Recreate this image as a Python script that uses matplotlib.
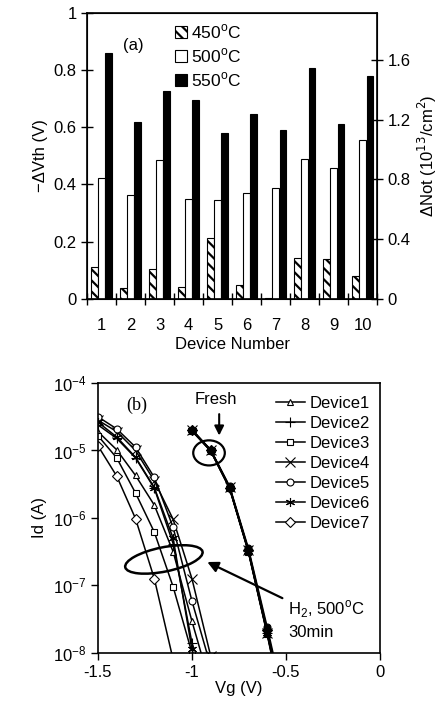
import matplotlib
matplotlib.use("Agg")
import matplotlib.pyplot as plt
import numpy as np
from matplotlib.patches import Ellipse

plt.rcParams['font.family'] = ['Liberation Sans', 'DejaVu Sans']
plt.rcParams['font.size'] = 12
plt.rcParams['hatch.linewidth'] = 1.6

# ---- panel (a) data ----
devices = [1, 2, 3, 4, 5, 6, 7, 8, 9, 10]
dvth_450 = [0.112, 0.038, 0.105, 0.042, 0.212, 0.048, 0.002, 0.143, 0.138, 0.078]
dvth_500 = [0.421, 0.364, 0.486, 0.350, 0.344, 0.369, 0.388, 0.488, 0.458, 0.556]
dvth_550 = [0.858, 0.617, 0.728, 0.696, 0.579, 0.645, 0.589, 0.807, 0.612, 0.780]

# ---- panel (b) data: log10(Id) ----
vg_h2 = [-1.5, -1.4, -1.3, -1.2, -1.1, -1.0, -0.9]
h2_logid = {
    'Device1': [-4.72, -4.99, -5.37, -5.81, -6.50, -7.53, -8.50],
    'Device2': [-4.62, -4.82, -5.11, -5.56, -6.38, -7.85, -8.70],
    'Device3': [-4.78, -5.11, -5.63, -6.21, -7.02, -8.00, -9.20],
    'Device4': [-4.55, -4.72, -5.00, -5.45, -6.02, -6.90, -8.05],
    'Device5': [-4.50, -4.68, -4.95, -5.40, -6.14, -7.23, -8.20],
    'Device6': [-4.58, -4.80, -5.10, -5.55, -6.30, -7.95, -8.80],
    'Device7': [-4.93, -5.38, -6.01, -6.90, -8.10, -9.50, -11.0],
}
vg_fresh = [-1.0, -0.9, -0.8, -0.7, -0.6, -0.5]
fresh_logid = {
    'Device1': [-4.70, -5.00, -5.55, -6.48, -7.68, -8.95],
    'Device2': [-4.70, -5.00, -5.55, -6.49, -7.70, -9.00],
    'Device3': [-4.71, -5.01, -5.56, -6.50, -7.72, -9.05],
    'Device4': [-4.70, -5.00, -5.54, -6.48, -7.70, -8.90],
    'Device5': [-4.69, -4.99, -5.53, -6.45, -7.62, -8.85],
    'Device6': [-4.70, -5.00, -5.55, -6.49, -7.71, -9.00],
    'Device7': [-4.70, -5.00, -5.55, -6.47, -7.66, -8.92],
}
markers = {'Device1': '^', 'Device2': '+', 'Device3': 's', 'Device4': 'x',
           'Device5': 'o', 'Device6': (6, 2, 0), 'Device7': 'D'}

fig = plt.figure(figsize=(4.47, 7.08), dpi=100)

# ================= (a) =================
ax = fig.add_axes([0.195, 0.578, 0.649, 0.404])
x = np.array(devices)
w = 0.24
ax.bar(x - 0.25, dvth_450, w, color='white', edgecolor='black', hatch='\\\\\\',
       linewidth=0.8, label='450$^{\\mathregular{o}}$C')
ax.bar(x, dvth_500, w, color='white', edgecolor='black', linewidth=0.8,
       label='500$^{\\mathregular{o}}$C')
ax.bar(x + 0.25, dvth_550, w, color='black', edgecolor='black', linewidth=0.8,
       label='550$^{\\mathregular{o}}$C')
ax.set_xlim(0.5, 10.5)
ax.set_ylim(0, 1)
ax.set_xticks(devices)
ax.set_xticks(np.arange(0.5, 11, 1), minor=True)
ax.tick_params(axis='x', which='major', length=0, pad=14)
ax.tick_params(axis='x', which='minor', direction='inout', length=8, width=1)
ax.set_yticks([0, 0.2, 0.4, 0.6, 0.8, 1])
ax.set_yticklabels(['0', '0.2', '0.4', '0.6', '0.8', '1'])
ax.tick_params(axis='y', direction='inout', length=8, width=1)
ax.set_xlabel('Device Number', labelpad=3)
ax.set_ylabel('\u2212\u0394Vth (V)', labelpad=4)
for s in ax.spines.values():
    s.set_linewidth(1.2)
ax.text(0.125, 0.87, '(a)', transform=ax.transAxes, fontsize=12,
        family=['Liberation Sans', 'DejaVu Sans'])
ax.legend(loc='upper left', bbox_to_anchor=(0.28, 0.99), frameon=False,
          handlelength=0.7, handleheight=0.7, handletextpad=0.2,
          labelspacing=0.3, borderaxespad=0, fontsize=12.5)

ax2 = ax.twinx()
ax2.set_ylim(0, 1.915)
ax2.set_yticks([0, 0.4, 0.8, 1.2, 1.6])
ax2.set_yticklabels(['0', '0.4', '0.8', '1.2', '1.6'])
ax2.tick_params(axis='y', direction='inout', length=8, width=1)
ax2.set_ylabel('\u0394Not (10$^{13}$/cm$^2$)', labelpad=4)

# ================= (b) =================
bx = fig.add_axes([0.219, 0.078, 0.631, 0.381])
for name in h2_logid:
    mk = markers[name]
    ms = 5 if name not in ('Device2', 'Device4', 'Device6') else 6.5
    bx.plot(vg_h2, 10 ** np.array(h2_logid[name]), color='black', lw=1.1,
            marker=mk, ms=ms, mfc='white', mec='black', mew=0.8, label=name)
    bx.plot(vg_fresh, 10 ** np.array(fresh_logid[name]), color='black', lw=1.2,
            marker=mk, ms=ms, mfc='black', mec='black', mew=0.8)
bx.set_yscale('log')
bx.set_xlim(-1.5, 0)
bx.set_ylim(1e-8, 1e-4)
bx.set_xticks([-1.5, -1, -0.5, 0])
bx.set_xticklabels(['-1.5', '-1', '-0.5', '0'])
bx.yaxis.set_minor_locator(matplotlib.ticker.NullLocator())
bx.tick_params(direction='out', length=5, width=1)
bx.set_xlabel('Vg (V)', labelpad=1)
bx.set_ylabel('Id (A)', labelpad=4)
for s in bx.spines.values():
    s.set_linewidth(1.2)
bx.text(0.1, 0.9, '(b)', transform=bx.transAxes, fontsize=13,
        family=['Liberation Serif', 'DejaVu Serif'])
bx.legend(loc='upper right', bbox_to_anchor=(1.0, 0.99), frameon=False,
          handlelength=1.7, handletextpad=0.3, labelspacing=0.3,
          borderaxespad=0.2)

# annotations
bx.text(0.42, 0.94, 'Fresh', transform=bx.transAxes, ha='center', va='center')
bx.annotate('', xy=(0.43, 0.795), xytext=(0.43, 0.895), xycoords='axes fraction',
            arrowprops=dict(arrowstyle='-|>', color='black', lw=1.5,
                            mutation_scale=14))
bx.add_patch(Ellipse((0.394, 0.741), 0.112, 0.093, transform=bx.transAxes,
                     fill=False, lw=1.6, ec='black'))
bx.add_patch(Ellipse((0.234, 0.346), 0.28, 0.09, angle=12, transform=bx.transAxes,
                     fill=False, lw=1.8, ec='black'))
bx.annotate('', xy=(0.379, 0.341), xytext=(0.663, 0.198), xycoords='axes fraction',
            arrowprops=dict(arrowstyle='-|>', color='black', lw=1.6,
                            mutation_scale=16))
bx.text(0.675, 0.16, 'H$_{\\mathregular{2}}$, 500$^{\\mathregular{o}}$C',
        transform=bx.transAxes, va='center')
bx.text(0.675, 0.074, '30min', transform=bx.transAxes, va='center')

fig.savefig('out.png', dpi=100)
